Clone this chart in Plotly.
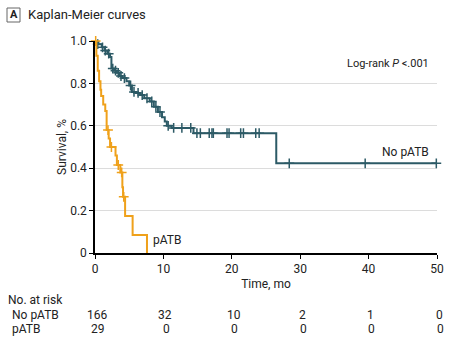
import plotly.graph_objects as go

# ---- data ----
no_patb_t = [0, 0.5, 1.0, 1.4, 1.8, 2.2, 2.4, 2.8, 3.2, 3.6, 4.0, 4.6, 5.0, 5.4, 6.0, 6.6, 7.2, 8.0, 8.6, 9.2, 9.8, 10.2, 10.5, 11.2, 14.4, 26.5, 50]
no_patb_s = [1.0, 0.985, 0.97, 0.955, 0.94, 0.925, 0.87, 0.86, 0.85, 0.835, 0.825, 0.81, 0.79, 0.76, 0.755, 0.745, 0.73, 0.715, 0.69, 0.665, 0.64, 0.62, 0.60, 0.59, 0.565, 0.423, 0.423]
no_patb_cens_t = [0.4, 1.1, 1.5, 2.0, 2.6, 3.0, 3.4, 3.8, 4.3, 5.2, 5.7, 6.3, 6.9, 7.6, 8.3, 8.9, 9.5, 10.7, 11.5, 12.7, 14.0, 14.9, 15.4, 16.7, 17.1, 17.3, 19.3, 19.6, 21.3, 21.7, 23.5, 24.0, 28.4, 39.5, 49.9]
no_patb_cens_s = [0.985, 0.97, 0.955, 0.94, 0.87, 0.86, 0.85, 0.835, 0.825, 0.79, 0.76, 0.755, 0.745, 0.73, 0.715, 0.69, 0.665, 0.60, 0.59, 0.59, 0.59, 0.565, 0.565, 0.565, 0.565, 0.565, 0.565, 0.565, 0.565, 0.565, 0.565, 0.565, 0.423, 0.423, 0.423]

patb_t = [0, 0.2, 0.4, 0.6, 0.8, 0.9, 1.2, 1.5, 1.7, 2.0, 2.2, 3.0, 3.2, 3.7, 4.0, 4.1, 4.4, 5.5, 7.6]
patb_s = [1.0, 0.93, 0.86, 0.81, 0.77, 0.74, 0.70, 0.67, 0.58, 0.54, 0.50, 0.46, 0.415, 0.38, 0.31, 0.265, 0.175, 0.085, 0.0]
patb_cens_t = [0.1, 1.9, 2.4, 3.4, 3.9, 4.2]
patb_cens_s = [1.0, 0.58, 0.50, 0.415, 0.38, 0.265]

risk_times = [0, 10, 20, 30, 40, 50]
risk_no_patb = [166, 32, 10, 2, 1, 0]
risk_patb = [29, 0, 0, 0, 0, 0]

x_ticks = [0, 10, 20, 30, 40, 50]
y_ticks = [0, 0.2, 0.4, 0.6, 0.8, 1.0]
y_tick_labels = ["0", "0.2", "0.4", "0.6", "0.8", "1.0"]

TEAL = "#2C5A66"
ORANGE = "#EFA11B"
FONT = "Roboto, Liberation Sans, sans-serif"
TXT = "#222"

# plot area in page pixels
PL, PR, PT, PB = 95, 437, 41, 253


def px(x):
    return (x - PL) / (PR - PL)


def py(y):
    return (PB - y) / (PB - PT)


fig = go.Figure()
fig.add_trace(go.Scatter(x=no_patb_t, y=no_patb_s, mode="lines", line=dict(color=TEAL, width=2, shape="hv"),
                         showlegend=False, cliponaxis=False, hoverinfo="skip"))
fig.add_trace(go.Scatter(x=no_patb_cens_t, y=no_patb_cens_s, mode="markers",
                         marker=dict(symbol="cross-thin", size=7, line=dict(color=TEAL, width=1.5)),
                         showlegend=False, cliponaxis=False))
fig.add_trace(go.Scatter(x=patb_t, y=patb_s, mode="lines", line=dict(color=ORANGE, width=2, shape="hv"),
                         showlegend=False, cliponaxis=False, hoverinfo="skip"))
fig.add_trace(go.Scatter(x=patb_cens_t, y=patb_cens_s, mode="markers",
                         marker=dict(symbol="cross-thin", size=7, line=dict(color=ORANGE, width=1.5)),
                         showlegend=False, cliponaxis=False))

fig.update_xaxes(range=[0, 50], tickvals=x_ticks, showgrid=False, zeroline=False, automargin=False,
                 ticklabeloverflow="allow",
                 showline=True, linecolor="black", linewidth=1.5,
                 ticks="outside", ticklen=4, tickcolor="black", tickwidth=1,
                 tickfont=dict(family=FONT, size=12, color=TXT),
                 title=dict(text="Time, mo", font=dict(family=FONT, size=12, color=TXT), standoff=4))
fig.update_yaxes(range=[0, 1], tickvals=y_ticks, ticktext=y_tick_labels, showgrid=True, automargin=False,
                 gridcolor="#dcdcdc", gridwidth=1, zeroline=False,
                 showline=True, linecolor="black", linewidth=1.5,
                 ticks="outside", ticklen=4, tickcolor="black", tickwidth=1,
                 tickfont=dict(family=FONT, size=12, color=TXT),
                 title=dict(text="Survival, %", font=dict(family=FONT, size=12, color=TXT), standoff=1))

ann = []


def text(xp, yp, s, anchor="left", size=12):
    ann.append(dict(xref="paper", yref="paper", x=px(xp), y=py(yp), text=s, showarrow=False,
                    xanchor=anchor, yanchor="middle", font=dict(family=FONT, size=size, color=TXT)))


text(13.5, 15, "<b>A</b>", "center", 11)
text(26, 15, "Kaplan-Meier curves", "left", 13)
text(431, 63, "Log-rank <i>P</i> <.001", "right", 11)
text(431, 152, "No pATB", "right", 12)
text(151, 240, "pATB", "left", 12)

text(6, 300, "No. at risk")
text(10, 315, "No pATB")
text(10, 329, "pATB")
tick_px = [PL + (PR - PL) * t / 50 for t in risk_times]
for tp, a, b in zip(tick_px, risk_no_patb, risk_patb):
    text(tp + 2, 315, str(a), "center")
    text(tp + 3, 329, str(b), "center")

fig.update_layout(
    width=450, height=343,
    margin=dict(l=95, r=13, t=41, b=90),
    plot_bgcolor="white", paper_bgcolor="white",
    annotations=ann,
    shapes=[dict(type="rect", xref="paper", yref="paper",
                 x0=px(7), x1=px(20), y0=py(22), y1=py(8),
                 line=dict(color="#666", width=1), fillcolor="white", layer="below")],
)
fig.write_html("out.html")
